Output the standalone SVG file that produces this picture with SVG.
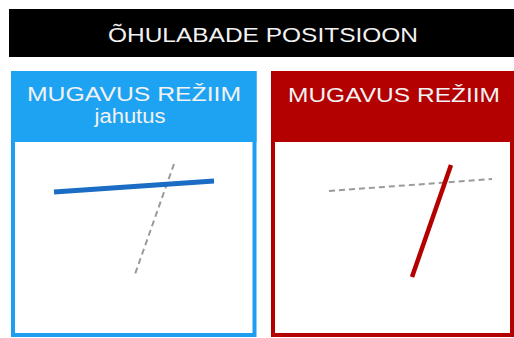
<svg xmlns="http://www.w3.org/2000/svg" width="514" height="338" viewBox="0 0 514 338">
<style>
.t{font-family:"Liberation Sans",Arial,sans-serif;fill:#f2f2f2;text-anchor:middle}
.dash{stroke:#9a9a9a;stroke-width:2;stroke-dasharray:6 4;fill:none}
</style>
<rect x="0" y="0" width="514" height="338" fill="#ffffff"/>
<g id="title">
<rect x="9" y="9" width="505" height="48" fill="#000000"/>
<text class="t" x="263" y="42" font-size="20" textLength="310" lengthAdjust="spacingAndGlyphs">ÕHULABADE POSITSIOON</text>
</g>
<g id="panel-blue">
<rect x="13" y="73" width="241.5" height="262" fill="#ffffff" stroke="#1e9ef0" stroke-width="4"/>
<rect x="11" y="71" width="245.5" height="71" fill="#1ea3f2"/>
<text class="t" x="134" y="101" font-size="21" textLength="214" lengthAdjust="spacingAndGlyphs">MUGAVUS REŽIIM</text>
<text class="t" x="130" y="123" font-size="20" textLength="71" lengthAdjust="spacingAndGlyphs">jahutus</text>
</g>
<g id="panel-red">
<rect x="273" y="73" width="239" height="262" fill="#ffffff" stroke="#b30000" stroke-width="4"/>
<rect x="271" y="71" width="243" height="71" fill="#b30000"/>
<text class="t" x="394" y="101.5" font-size="21" textLength="212" lengthAdjust="spacingAndGlyphs">MUGAVUS REŽIIM</text>
</g>
<g id="connectors">
<line class="dash" x1="174" y1="164" x2="134" y2="277"/>
<line x1="54" y1="192" x2="214" y2="181" stroke="#1a6cc4" stroke-width="5"/>
<line class="dash" x1="329" y1="191" x2="492" y2="179"/>
<line x1="451" y1="165" x2="412" y2="277" stroke="#b50000" stroke-width="4.5"/>
</g>
</svg>
